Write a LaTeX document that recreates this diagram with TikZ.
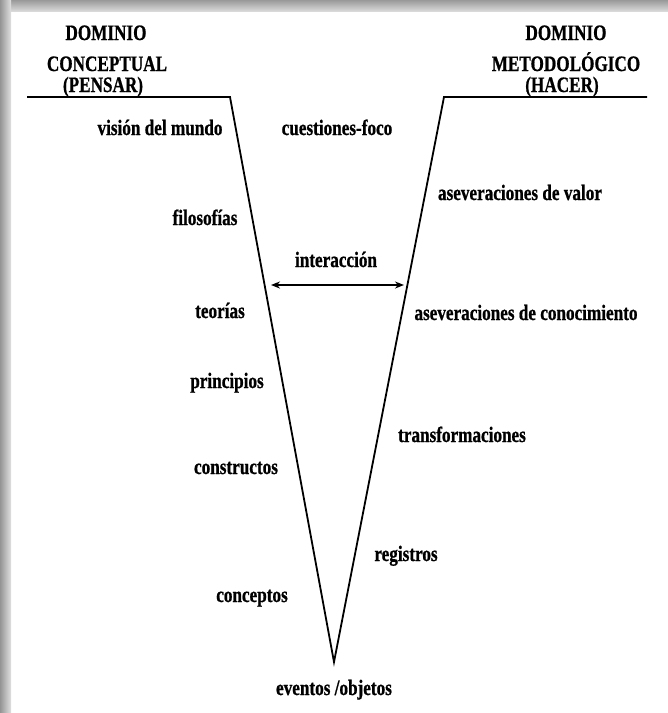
\documentclass[tikz,border=0pt]{standalone}
\usepackage{fontspec}
\setmainfont{Liberation Serif}[FakeStretch=0.78, BoldFeatures={FakeBold=0.8}]
\usetikzlibrary{arrows.meta}
\begin{document}
\begin{tikzpicture}[x=1pt,y=-1pt,
  lbl/.style={font=\bfseries\fontsize{22}{24}\selectfont, inner sep=0pt, anchor=base},
  vline/.style={line width=1.8pt, line join=miter},
  arr/.style={line width=1.6pt, {Stealth[length=9pt,width=7pt]}-{Stealth[length=9pt,width=7pt]}}]
\useasboundingbox (0,0) rectangle (668,713);
\fill[white] (0,0) rectangle (668,713);
\shade[top color=black!40, bottom color=black!15] (0,0) rectangle (668,11);
\shade[left color=black!42, right color=black!12] (0,0) rectangle (11,713);
% headers
\node[lbl] (h1a) at (106,40) {DOMINIO};
\node[lbl] (h1b) at (107,71) {CONCEPTUAL};
\node[lbl] (h1c) at (103,92) {(PENSAR)};
\node[lbl] (h2a) at (566,40) {DOMINIO};
\node[lbl] (h2b) at (566,71) {METODOLÓGICO};
\node[lbl] (h2c) at (562,92) {(HACER)};
% V shape
\coordinate (l0) at (27,97);
\coordinate (l1) at (230,97);
\coordinate (vb) at (334,662);
\coordinate (r1) at (444,97);
\coordinate (r0) at (647,97);
\draw[vline] (l0) -- (l1) -- (vb) -- (r1) -- (r0);
% left labels
\node[lbl] (vm) at (160,135) {visión del mundo};
\node[lbl] (fi) at (205,225) {filosofías};
\node[lbl] (te) at (220,318) {teorías};
\node[lbl] (pr) at (227,388) {principios};
\node[lbl] (co) at (236,474) {constructos};
\node[lbl] (cc) at (252,602) {conceptos};
% right labels
\node[lbl] (cf) at (337,135) {cuestiones-foco};
\node[lbl] (av) at (520,200) {aseveraciones de valor};
\node[lbl] (ac) at (526,320) {aseveraciones de conocimiento};
\node[lbl] (tr) at (462,442) {transformaciones};
\node[lbl] (re) at (406,561) {registros};
\node[lbl] (ev) at (334,695) {eventos /objetos};
% interaction
\node[lbl] (in) at (336,267) {interacción};
\coordinate (a1) at (271,285);
\coordinate (a2) at (404,285);
\draw[arr] (a1) -- (a2);
\end{tikzpicture}
\end{document}
